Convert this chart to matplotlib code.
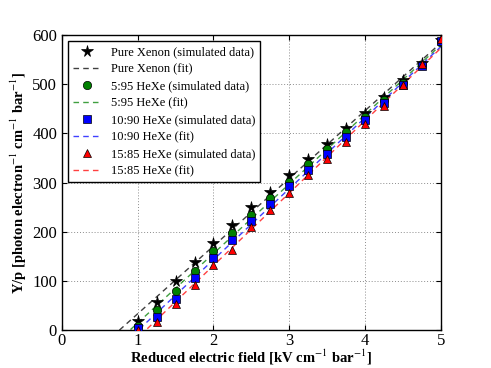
import numpy as np
import matplotlib
matplotlib.use("Agg")
import matplotlib.pyplot as plt

field = [1.0, 1.25, 1.5, 1.75, 2.0, 2.25, 2.5, 2.75, 3.0, 3.25, 3.5, 3.75, 4.0, 4.25, 4.5, 4.75, 5.0]
pure_xe = [19, 58, 100, 139, 178, 214, 250, 281, 315, 347, 378, 410, 442, 474, 508, 542, 590]
hexe_5_95 = [9, 41, 80, 121, 161, 198, 233, 268, 302, 337, 369, 403, 434, 467, 503, 539, 586]
hexe_10_90 = [4, 27, 64, 105, 146, 183, 222, 256, 292, 325, 359, 393, 427, 462, 498, 537, 588]
hexe_15_85 = [1, 17, 53, 92, 132, 163, 209, 244, 279, 315, 347, 383, 418, 455, 498, 540, 592]

series = [
    ("Pure Xenon", pure_xe, "k", "*", 8.5),
    ("5:95 HeXe", hexe_5_95, "g", "o", 6),
    ("10:90 HeXe", hexe_10_90, "b", "s", 6),
    ("15:85 HeXe", hexe_15_85, "r", "^", 6),
]

plt.rcParams['font.family'] = ['Liberation Serif', 'DejaVu Serif']
plt.rcParams['mathtext.fontset'] = 'stix'
plt.rcParams['xtick.direction'] = 'in'
plt.rcParams['ytick.direction'] = 'in'

fig = plt.figure(figsize=(4.91, 3.68), dpi=100)
ax = fig.add_axes([0.126, 0.103, 0.772, 0.802])

xfit = np.linspace(0, 5, 200)
for name, vals, c, m, ms in series:
    x = np.array(field)
    y = np.array(vals, dtype=float)
    ax.plot(x, y, linestyle='none', marker=m, color=c, markersize=ms,
            markeredgecolor='k', markeredgewidth=0.5,
            label=f"{name} (simulated data)", zorder=3)
    p = np.polyfit(x, y, 1)
    ax.plot(xfit, np.polyval(p, xfit), linestyle=(0, (4, 3)), color=c, linewidth=1.0,
            alpha=0.75, label=f"{name} (fit)", zorder=2)

ax.set_xlim(0, 5)
ax.set_ylim(0, 600)
ax.set_xticks([0, 1, 2, 3, 4, 5])
ax.set_yticks([0, 100, 200, 300, 400, 500, 600])
ax.tick_params(labelsize=12, top=True, right=True)
ax.tick_params(axis='x', pad=2)
ax.grid(True, linestyle=(0, (1, 2)), color='0.55', linewidth=0.7)
ax.set_xlabel(r"Reduced electric field [kV cm$^{-1}$ bar$^{-1}$]", fontsize=10.5,
              fontweight='bold', labelpad=-1)
ax.set_ylabel(r"Y/p [photon electron$^{-1}$ cm$^{-1}$ bar$^{-1}$]", fontsize=10.5,
              fontweight='bold', labelpad=2)
for s in ax.spines.values():
    s.set_linewidth(1.0)

leg = ax.legend(loc='upper left', numpoints=1, fontsize=9, fancybox=False,
                framealpha=1, edgecolor='k', handlelength=2.2, labelspacing=0.4,
                borderpad=0.4)
leg.get_frame().set_linewidth(1.0)

fig.savefig("out.png", dpi=100)
